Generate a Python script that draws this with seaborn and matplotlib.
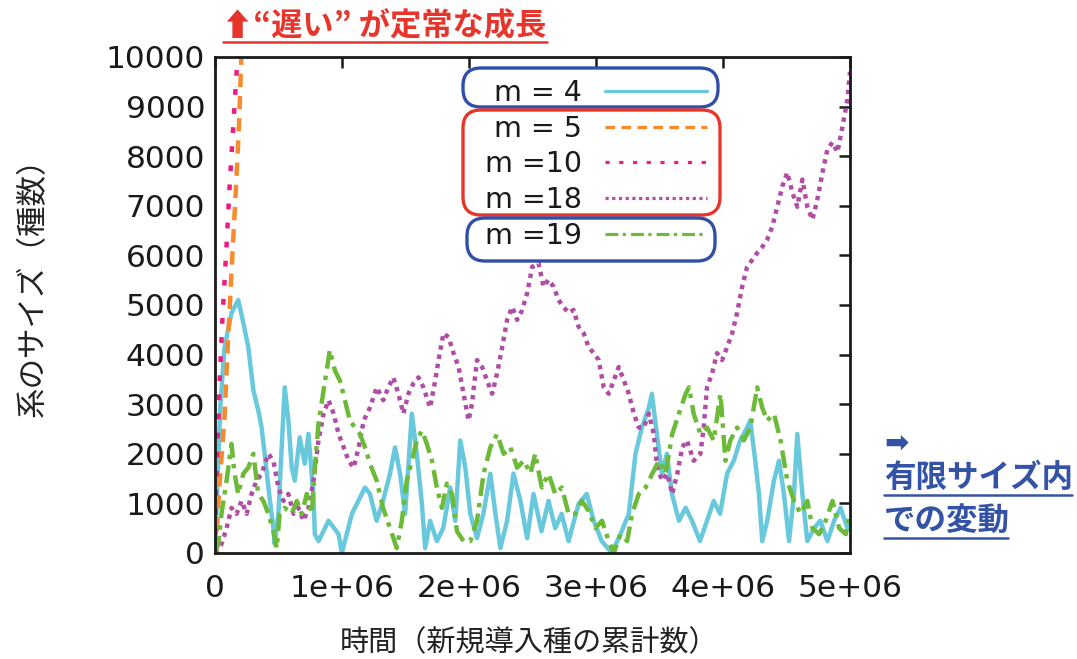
import numpy as np
import pandas as pd
import matplotlib
matplotlib.use("Agg")
import matplotlib.pyplot as plt
import seaborn as sns
from matplotlib.patches import FancyBboxPatch
from matplotlib.lines import Line2D
from matplotlib.transforms import IdentityTransform

# ---- data: system size (number of species) vs. cumulative introduced species (in units of 1e6)
m4_t = [0.000, 0.020, 0.043, 0.075, 0.130, 0.183, 0.223, 0.262, 0.302, 0.341,
        0.367, 0.391, 0.430, 0.460, 0.470, 0.499, 0.525, 0.549, 0.578, 0.604,
        0.628, 0.667, 0.707, 0.736, 0.776, 0.786, 0.815, 0.894, 0.973, 0.999,
        1.078, 1.181, 1.220, 1.273, 1.323, 1.378, 1.418, 1.457, 1.497, 1.550,
        1.589, 1.629, 1.655, 1.694, 1.747, 1.797, 1.852, 1.892, 1.931, 1.971,
        2.010, 2.063, 2.113, 2.168, 2.208, 2.247, 2.300, 2.350, 2.405, 2.458,
        2.508, 2.571, 2.626, 2.679, 2.729, 2.784, 2.863, 2.927, 2.982, 3.045,
        3.124, 3.193, 3.258, 3.311, 3.361, 3.416, 3.440, 3.479, 3.519, 3.558,
        3.598, 3.653, 3.706, 3.756, 3.819, 3.874, 3.927, 3.977, 4.032, 4.085,
        4.135, 4.190, 4.214, 4.254, 4.283, 4.309, 4.348, 4.401, 4.441, 4.480,
        4.520, 4.559, 4.585, 4.625, 4.664, 4.717, 4.767, 4.822, 4.875, 4.925,
        4.980, 5.000]
m4_size = [0, 1500, 3000, 4150, 4840, 5100, 4640, 4150, 3280, 2870,
           2530, 2000, 1110, 500, 180, 790, 2130, 3340, 2670, 1720,
           1460, 2330, 1800, 2400, 1110, 380, 240, 650, 380, 0,
           790, 1320, 1190, 650, 1050, 1600, 2130, 1600, 790, 2810,
           2000, 990, 100, 650, 240, 500, 1320, 650, 2270, 1720,
           790, 300, 790, 1600, 790, 100, 650, 1600, 1050, 300,
           1190, 440, 1050, 500, 790, 240, 990, 1190, 650, 240,
           0, 380, 790, 2000, 2530, 2930, 3210, 2400, 1600, 2000,
           1190, 650, 910, 650, 240, 650, 1050, 790, 1600, 1860,
           2270, 2530, 2670, 1860, 1190, 240, 650, 1460, 1860, 1190,
           240, 1190, 2400, 1190, 240, 500, 650, 240, 650, 910,
           500, 600]

m5_t = [0.000, 0.012, 0.036, 0.075, 0.099, 0.139, 0.170, 0.190, 0.209]
m5_size = [0, 380, 1400, 2730, 4090, 6110, 7600, 8700, 10100]

m10_t = [0.000, 0.009, 0.036, 0.060, 0.089, 0.115, 0.146, 0.170, 0.186]
m10_size = [0, 1400, 3420, 4800, 6110, 7400, 8700, 9700, 10100]

m18_t = [0.000, 0.051, 0.091, 0.130, 0.170, 0.209, 0.249, 0.288, 0.328, 0.367,
         0.420, 0.460, 0.499, 0.539, 0.578, 0.618, 0.657, 0.697, 0.736, 0.776,
         0.815, 0.855, 0.894, 0.934, 0.973, 1.013, 1.052, 1.092, 1.131, 1.171,
         1.220, 1.273, 1.325, 1.365, 1.404, 1.444, 1.483, 1.523, 1.562, 1.602,
         1.641, 1.694, 1.734, 1.760, 1.799, 1.839, 1.878, 1.918, 1.957, 1.997,
         2.024, 2.063, 2.103, 2.142, 2.182, 2.221, 2.261, 2.300, 2.340, 2.379,
         2.419, 2.458, 2.498, 2.547, 2.587, 2.626, 2.666, 2.705, 2.745, 2.784,
         2.824, 2.863, 2.903, 2.942, 2.982, 3.021, 3.061, 3.100, 3.140, 3.179,
         3.219, 3.258, 3.298, 3.337, 3.377, 3.416, 3.455, 3.482, 3.521, 3.561,
         3.600, 3.640, 3.679, 3.716, 3.769, 3.822, 3.848, 3.874, 3.914, 3.953,
         3.993, 4.032, 4.072, 4.111, 4.151, 4.190, 4.230, 4.269, 4.309, 4.348,
         4.388, 4.427, 4.467, 4.506, 4.546, 4.585, 4.625, 4.664, 4.704, 4.743,
         4.783, 4.822, 4.862, 4.901, 4.941, 4.980, 5.000]
m18_size = [0, 180, 500, 910, 790, 1050, 790, 1190, 1460, 1600,
            2000, 1860, 1320, 1050, 1190, 790, 910, 650, 910, 1460,
            2270, 2810, 3080, 2810, 2400, 2130, 1860, 1720, 2130, 2670,
            2930, 3340, 3080, 3340, 3540, 3210, 2810, 3210, 3420, 3540,
            3340, 2930, 3480, 3890, 4430, 4350, 4030, 3750, 3210, 2670,
            3020, 3890, 3750, 3480, 3210, 3620, 4150, 4700, 4960, 4700,
            4900, 5240, 5770, 5850, 5370, 5510, 5370, 5100, 4960, 4840,
            4900, 4560, 4430, 4150, 4030, 3890, 3340, 3210, 3480, 3750,
            3480, 3210, 2810, 2530, 2530, 2810, 2400, 1720, 1460, 1600,
            1190, 1600, 2130, 2270, 1860, 2000, 2530, 3340, 3620, 4030,
            3890, 4150, 4430, 4840, 5370, 5770, 5910, 6050, 6170, 6320,
            6580, 6980, 7390, 7670, 7270, 6980, 7530, 6980, 6720, 7130,
            7670, 8140, 8280, 8080, 8600, 9150, 9700]

m19_t = [0.000, 0.025, 0.051, 0.091, 0.130, 0.154, 0.183, 0.223, 0.262, 0.302,
         0.341, 0.381, 0.420, 0.460, 0.486, 0.509, 0.549, 0.604, 0.644, 0.683,
         0.723, 0.762, 0.786, 0.815, 0.855, 0.904, 0.944, 0.983, 1.023, 1.062,
         1.102, 1.141, 1.181, 1.220, 1.273, 1.323, 1.378, 1.431, 1.471, 1.510,
         1.550, 1.589, 1.629, 1.668, 1.708, 1.747, 1.787, 1.826, 1.866, 1.905,
         1.957, 2.010, 2.063, 2.115, 2.168, 2.221, 2.273, 2.326, 2.379, 2.431,
         2.484, 2.521, 2.573, 2.626, 2.679, 2.731, 2.784, 2.837, 2.889, 2.942,
         2.995, 3.047, 3.100, 3.140, 3.193, 3.245, 3.284, 3.337, 3.390, 3.443,
         3.495, 3.548, 3.600, 3.653, 3.706, 3.732, 3.769, 3.822, 3.874, 3.927,
         3.980, 4.019, 4.058, 4.111, 4.164, 4.216, 4.269, 4.309, 4.348, 4.401,
         4.453, 4.506, 4.559, 4.611, 4.664, 4.704, 4.757, 4.809, 4.862, 4.915,
         4.967, 5.000]
m19_size = [0, 180, 790, 1460, 2200, 1600, 1190, 1600, 1720, 2000,
            1190, 1050, 790, 440, 100, 790, 910, 790, 1050, 790,
            1190, 790, 1720, 2610, 3280, 4090, 3680, 3480, 3080, 2670,
            2530, 2400, 2130, 1800, 1460, 910, 500, 100, 650, 1460,
            1860, 2270, 2470, 2200, 1860, 1320, 910, 1400, 1190, 440,
            240, 240, 650, 1600, 2130, 2400, 2000, 2130, 1720, 1860,
            1600, 2000, 1320, 1600, 1190, 1320, 790, 790, 1050, 850,
            500, 650, 240, 0, 380, 240, 790, 1190, 1320, 1600,
            1860, 1600, 2400, 2810, 3210, 3340, 2810, 2400, 2530, 2270,
            3210, 1860, 2270, 2530, 2270, 2530, 3340, 2930, 2670, 2810,
            2270, 1460, 1050, 790, 1050, 500, 380, 650, 1050, 500,
            380, 790]

series_labels = ["m = 4", "m = 5", "m =10", "m =18", "m =19"]
series_t = [m4_t, m5_t, m10_t, m18_t, m19_t]
series_size = [m4_size, m5_size, m10_size, m18_size, m19_size]
series_colors = ["#68C8DC", "#F68A2C", "#EC1C82", "#B04EA6", "#6CBA38"]
series_styles = ["-", (0, (3.0, 2.0)), (0, (1.3, 3.0)), (0, (1.0, 1.1)),
                 (0, (4.0, 1.4, 1.0, 1.6))]

x_ticks = [0, 1e6, 2e6, 3e6, 4e6, 5e6]
x_tick_labels = ["0", "1e+06", "2e+06", "3e+06", "4e+06", "5e+06"]
y_ticks = list(range(0, 10001, 1000))

CJK = ["Noto Sans CJK JP", "DejaVu Sans"]

sns.set_style("white")
plt.rcParams["font.family"] = ["DejaVu Sans"]

W, H = 1077, 659
fig = plt.figure(figsize=(W / 100, H / 100), dpi=100)
ax = fig.add_axes([215 / W, 1 - 553 / H, 635 / W, 496 / H])

for lab, t, s, c, ls in zip(series_labels, series_t, series_size,
                            series_colors, series_styles):
    df = pd.DataFrame({"t": np.asarray(t) * 1e6, "size": s})
    sns.lineplot(data=df, x="t", y="size", ax=ax, color=c, linestyle=ls,
                 linewidth=3.2, estimator=None, sort=False, label=lab)

ax.set_xlim(0, 5e6)
ax.set_ylim(0, 10000)
ax.set_xticks(x_ticks)
ax.set_xticklabels(x_tick_labels)
ax.set_yticks(y_ticks)
for sp in ax.spines.values():
    sp.set_linewidth(2.0)
    sp.set_color("#1a1a1a")
ax.tick_params(axis="both", which="major", direction="in", length=8, width=1.8,
               top=True, right=True, labelsize=22.5, colors="#1a1a1a")
ax.tick_params(axis="y", pad=7)
ax.tick_params(axis="x", pad=15)

ax.set_xlabel("時間（新規導入種の累計数）", family=CJK, fontsize=21, color="#222222")
ax.xaxis.set_label_coords(0.494, -0.151)
ax.xaxis.label.set_va("top")
ax.set_ylabel("系のサイズ（種数）", family=CJK, fontsize=22, color="#222222")
ax.yaxis.set_label_coords(-0.262, 0.55)

# legend: labels to the left of the line samples, no frame
leg = ax.legend(loc="upper right", bbox_to_anchor=(707 / W, 1 - 79 / H),
                bbox_transform=fig.transFigure, frameon=False, markerfirst=False,
                fontsize=20.5, handlelength=3.6, handletextpad=0.8,
                labelspacing=0.27, borderpad=0, borderaxespad=0)
for txt in leg.get_texts():
    txt.set_color("#1a1a1a")
for hl in leg.get_lines():
    hl.set_linewidth(2.3)

# rounded outlines grouping the legend entries (pixel coordinates, origin bottom-left)
def group_box(x0, y_top, x1, y_bot, color):
    fig.add_artist(FancyBboxPatch((x0, H - y_bot), x1 - x0, y_bot - y_top,
                                  boxstyle="round,pad=0,rounding_size=18",
                                  transform=IdentityTransform(), fill=False,
                                  edgecolor=color, linewidth=2.4))

group_box(463, 68, 718, 107, "#2F4FA8")
group_box(463, 110, 720, 215, "#E8352B")
group_box(467, 218, 715, 261, "#2F4FA8")

# annotations with underlines
red = "#E8352B"
blue = "#3553A6"
fig.text(222 / W, 1 - 26 / H, "⬆“遅い” が定常な成長", family=CJK, fontsize=22.5,
         fontweight="bold", color=red, ha="left", va="center")
fig.add_artist(Line2D([223 / W, 547 / W], [1 - 42 / H, 1 - 42 / H],
                      color=red, linewidth=1.8, transform=fig.transFigure))

fig.text(884 / W, 1 - 444 / H, "➡", family=["DejaVu Sans"], fontsize=21,
         fontweight="bold", color=blue, ha="left", va="center")
fig.text(884 / W, 1 - 478 / H, "有限サイズ内", family=CJK, fontsize=22.7,
         fontweight="bold", color=blue, ha="left", va="center")
fig.add_artist(Line2D([884 / W, 1072 / W], [1 - 495 / H, 1 - 495 / H],
                      color=blue, linewidth=1.8, transform=fig.transFigure))
fig.text(884 / W, 1 - 522 / H, "での変動", family=CJK, fontsize=22.7,
         fontweight="bold", color=blue, ha="left", va="center")
fig.add_artist(Line2D([884 / W, 1008 / W], [1 - 538 / H, 1 - 538 / H],
                      color=blue, linewidth=1.8, transform=fig.transFigure))

fig.savefig("out.png", dpi=100, facecolor="white")
